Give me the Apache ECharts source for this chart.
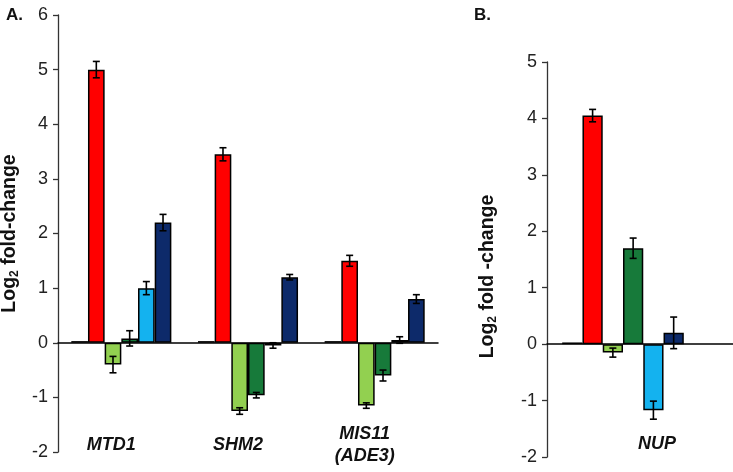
<!DOCTYPE html>
<html>
<head>
<meta charset="utf-8">
<script src="https://cdn.jsdelivr.net/npm/echarts@6/dist/echarts.min.js"></script>
<style>
  html, body { margin: 0; padding: 0; background: #fff; }
  #chart { width: 733px; height: 472px; }
</style>
</head>
<body>
<div id="chart"></div>
<script>
// panel A
var genesA = ['MTD1', 'SHM2', 'MIS11\n(ADE3)'];
var ctrlA = [0.03, 0.03, 0.03];
var redA = [5.0, 3.45, 1.5];
var lgreenA = [-0.4, -1.25, -1.15];
var dgreenA = [0.08, -0.96, -0.6];
var lblueA = [1.0, -0.05, 0.05];
var navyA = [2.2, 1.2, 0.8];
var redAErr = [0.15, 0.12, 0.1];
var lgreenAErr = [0.15, 0.06, 0.05];
var dgreenAErr = [0.14, 0.05, 0.1];
var lblueAErr = [0.12, 0.05, 0.06];
var navyAErr = [0.15, 0.05, 0.08];

// panel B
var genesB = ['NUP', ''];
var ctrlB = [0.03];
var redB = [4.05];
var lgreenB = [-0.15];
var dgreenB = [1.7];
var lblueB = [-1.17];
var navyB = [0.2];
var redBErr = [0.11];
var lgreenBErr = [0.08];
var dgreenBErr = [0.18];
var lblueBErr = [0.16];
var navyBErr = [0.28];

var yTicksA = { min: -2, max: 6, interval: 1 };
var yTicksB = { min: -2, max: 5, interval: 1 };

var colors = ['#141414', '#ff0000', '#92d050', '#177a3a', '#14b2ef', '#0d2a6a'];
var font = 'Liberation Sans, Arial, sans-serif';

var myChart = echarts.init(document.getElementById('chart'));

function bar(name, data, color, xi, gap) {
    return {
        type: 'bar',
        name: name,
        xAxisIndex: xi,
        yAxisIndex: xi,
        data: data,
        barGap: 0,
        barCategoryGap: gap,
        itemStyle: { color: color, borderColor: '#000', borderWidth: 1.5 },
        emphasis: { disabled: true }
    };
}

function errSeries(vals, errs, k, xi, gapFrac) {
    var data = vals.map(function(v, i) {
        return [i, v - errs[i], v + errs[i]];
    });
    return {
        type: 'custom',
        xAxisIndex: xi,
        yAxisIndex: xi,
        data: data,
        z: 5,
        renderItem: function(params, api) {
            var cat = api.value(0);
            var lo = api.coord([cat, api.value(1)]);
            var hi = api.coord([cat, api.value(2)]);
            var catW = api.size([1, 0])[0];
            var bw = catW * (1 - gapFrac) / 6;
            var x = lo[0] + (k - 2.5) * bw;
            var cap = 3.5;
            var st = { stroke: '#000', lineWidth: 1.6 };
            return {
                type: 'group',
                children: [
                    { type: 'line', shape: { x1: x, y1: lo[1], x2: x, y2: hi[1] }, style: st },
                    { type: 'line', shape: { x1: x - cap, y1: lo[1], x2: x + cap, y2: lo[1] }, style: st },
                    { type: 'line', shape: { x1: x - cap, y1: hi[1], x2: x + cap, y2: hi[1] }, style: st }
                ]
            };
        }
    };
}

function yAxis(idx, ticks, gap, pad) {
    return {
        type: 'value',
        gridIndex: idx,
        min: ticks.min,
        max: ticks.max,
        interval: ticks.interval,
        name: idx === 0 ? '{b|Log}{s|2}{b| fold-change}' : '{b|Log}{s|2}{b| fold -change}',
        nameLocation: 'middle',
        nameGap: gap,
        nameRotate: 90,
        nameTextStyle: {
            padding: pad,
            rich: {
                b: { fontFamily: font, fontWeight: 'bold', fontSize: 19.5, color: '#111' },
                s: { fontFamily: font, fontWeight: 'bold', fontSize: 12, color: '#111', padding: [10, 0, 0, 0] }
            }
        },
        axisLine: { show: true, lineStyle: { color: '#333', width: 1.3 } },
        axisTick: { show: true, length: 5, lineStyle: { color: '#333', width: 1.3 } },
        axisLabel: { fontFamily: font, fontSize: 18, color: '#222', margin: 10 },
        splitLine: { show: false }
    };
}

function xAxis(idx, cats, margin, pad) {
    return {
        type: 'category',
        gridIndex: idx,
        data: cats,
        axisLine: { show: true, onZero: true, lineStyle: { color: '#000', width: 1.5 } },
        axisTick: { show: false },
        axisLabel: {
            fontFamily: font,
            fontSize: 18,
            fontWeight: 'bold',
            fontStyle: 'italic',
            color: '#111',
            lineHeight: 22,
            margin: margin,
            verticalAlign: 'middle',
            padding: pad,
            interval: 0
        }
    };
}

var gapA = 0.21, gapB = 0.2;

var option = {
    animation: false,
    backgroundColor: '#fff',
    title: [
        { text: 'A.', left: 1, top: 2, textStyle: { fontFamily: font, fontSize: 17, fontWeight: 'bold', color: '#111' } },
        { text: 'B.', left: 469, top: 2, textStyle: { fontFamily: font, fontSize: 17, fontWeight: 'bold', color: '#111' } }
    ],
    grid: [
        { left: 58, top: 15, width: 380, height: 437, outerBoundsMode: 'none', containLabel: false },
        { left: 547, top: 62, width: 304, height: 395, outerBoundsMode: 'none', containLabel: false }
    ],
    xAxis: [xAxis(0, genesA, -7, [6, 20, 0, 0]), xAxis(1, genesB, -13, [0, 0, 0, 68])],
    yAxis: [yAxis(0, yTicksA, 33, [0, 0, 0, 0]), yAxis(1, yTicksB, 48, [0, 34, 0, 0])],
    series: [
        bar('ctrl', ctrlA, colors[0], 0, '21%'),
        bar('red', redA, colors[1], 0, '21%'),
        bar('lgreen', lgreenA, colors[2], 0, '21%'),
        bar('dgreen', dgreenA, colors[3], 0, '21%'),
        bar('lblue', lblueA, colors[4], 0, '21%'),
        bar('navy', navyA, colors[5], 0, '21%'),
        errSeries(redA, redAErr, 1, 0, gapA),
        errSeries(lgreenA, lgreenAErr, 2, 0, gapA),
        errSeries(dgreenA, dgreenAErr, 3, 0, gapA),
        errSeries(lblueA, lblueAErr, 4, 0, gapA),
        errSeries(navyA, navyAErr, 5, 0, gapA),

        bar('ctrl', ctrlB, colors[0], 1, '20%'),
        bar('red', redB, colors[1], 1, '20%'),
        bar('lgreen', lgreenB, colors[2], 1, '20%'),
        bar('dgreen', dgreenB, colors[3], 1, '20%'),
        bar('lblue', lblueB, colors[4], 1, '20%'),
        bar('navy', navyB, colors[5], 1, '20%'),
        errSeries(redB, redBErr, 1, 1, gapB),
        errSeries(lgreenB, lgreenBErr, 2, 1, gapB),
        errSeries(dgreenB, dgreenBErr, 3, 1, gapB),
        errSeries(lblueB, lblueBErr, 4, 1, gapB),
        errSeries(navyB, navyBErr, 5, 1, gapB)
    ]
};
myChart.setOption(option);
</script>
</body>
</html>
